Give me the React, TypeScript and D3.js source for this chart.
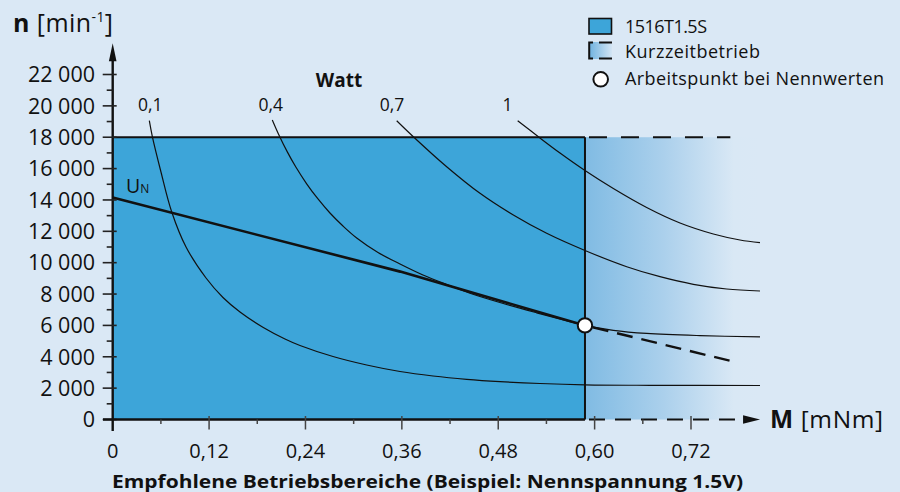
import React from "react";
import * as d3 from "d3";

// ---------- data ----------
const xTicks = [0, 0.12, 0.24, 0.36, 0.48, 0.6, 0.72];
const xTickLabels = ["0", "0,12", "0,24", "0,36", "0,48", "0,60", "0,72"];
const xMinorTicks = [0.06, 0.18, 0.3, 0.42, 0.54, 0.66];
const yTicks = [0, 2000, 4000, 6000, 8000, 10000, 12000, 14000, 16000, 18000, 20000, 22000];
const yTickLabels = ["0", "2 000", "4 000", "6 000", "8 000", "10 000", "12 000", "14 000", "16 000", "18 000", "20 000", "22 000"];
const yMinorTicks = [1000, 3000, 5000, 7000, 9000, 11000, 13000, 15000, 17000, 19000, 21000];

const ratedTorque = 0.588; // mNm, right edge of recommended area
const maxSpeed = 18000; // min-1, top edge
const shortTermEnd = 0.769; // end of dashed lines
const axisEndM = 0.806;
const axisEndN = 24000;
const opPoint: [number, number] = [0.588, 6000];

const curveP01: [number, number][] = [
  [0.0456, 19053], [0.0493, 18053], [0.0601, 15782], [0.0735, 13232], [0.0913, 11000],
  [0.1162, 9023], [0.1373, 7780], [0.1585, 6855], [0.1875, 5867], [0.2145, 5133],
  [0.2332, 4719], [0.2743, 4017], [0.3162, 3475], [0.3577, 3061], [0.3988, 2774],
  [0.4407, 2563], [0.4822, 2417], [0.532, 2296], [0.588, 2213], [0.6689, 2181], [0.8059, 2168],
];
const curveP04: [number, number][] = [
  [0.1987, 19099], [0.2062, 18225], [0.2174, 17064], [0.2282, 16082], [0.2415, 15030],
  [0.2556, 14061], [0.2705, 13168], [0.2867, 12339], [0.3038, 11574], [0.3303, 10649],
  [0.3577, 9916], [0.3863, 9214], [0.4158, 8609], [0.4448, 8054], [0.4863, 7397],
  [0.5279, 6804], [0.5693, 6243], [0.588, 6000], [0.6233, 5688], [0.6648, 5490],
  [0.7312, 5350], [0.8059, 5267],
];
const curveP07: [number, number][] = [
  [0.3536, 19054], [0.3743, 18034], [0.4158, 16121], [0.4573, 14424], [0.4988, 13040],
  [0.5403, 11873], [0.588, 10777], [0.64, 9744], [0.6814, 9106], [0.7229, 8621],
  [0.7644, 8322], [0.8059, 8194],
];
const curveP1: [number, number][] = [
  [0.5042, 19054], [0.532, 17951], [0.5569, 16994], [0.588, 15878], [0.6233, 14730],
  [0.6648, 13519], [0.7063, 12530], [0.7478, 11829], [0.781, 11446], [0.8059, 11274],
];
const powerCurves = [curveP01, curveP04, curveP07, curveP1];
const powerLabels = ["0,1", "0,4", "0,7", "1"];
const powerLabelM = [0.0468, 0.1969, 0.3478, 0.4917];
const powerLabelN = 19680;

const unLine: [number, number][] = [[0, 14150], [0.358, 9430], [0.588, 6000]];
const unDashed: [number, number][] = [[0.588, 6000], [0.768, 3750]];

const legendLabels = ["1516T1.5S", "Kurzzeitbetrieb", "Arbeitspunkt bei Nennwerten"];

// ---------- styles ----------
const BG = "#dae8f5";
const BLUE = "#3da5d9";
const FONT = "'Open Sans', 'Noto Sans', sans-serif";

export default function App() {
  const x = d3.scaleLinear().domain([0, 0.72]).range([112.7, 691]);
  const y = d3.scaleLinear().domain([0, 22000]).range([419.5, 74.5]);
  const line = d3
    .line<[number, number]>()
    .x((d) => x(d[0]))
    .y((d) => y(d[1]))
    .curve(d3.curveCatmullRom.alpha(0.5));
  const straight = d3
    .line<[number, number]>()
    .x((d) => x(d[0]))
    .y((d) => y(d[1]));

  const x0 = x(0);
  const y0 = y(0);
  const xR = x(ratedTorque);
  const yTop = y(maxSpeed);

  return (
    <svg
      width={900}
      height={492}
      style={{ position: "absolute", left: 0, top: 0, display: "block" }}
      fontFamily={FONT}
    >
      <defs>
        <linearGradient id="kzb" gradientUnits="userSpaceOnUse" x1={xR} x2={x(axisEndM)} y1={0} y2={0}>
          <stop offset="0" stopColor="#80bbe3" />
          <stop offset="0.45" stopColor="#abd0ec" />
          <stop offset="0.85" stopColor="#d9e8f5" />
          <stop offset="1" stopColor={BG} />
        </linearGradient>
        <linearGradient id="kzbLeg" x1="0" x2="1" y1="0" y2="0">
          <stop offset="0" stopColor="#6fb2df" />
          <stop offset="1" stopColor="#d3e5f4" />
        </linearGradient>
      </defs>
      <rect x={0} y={0} width={900} height={492} fill={BG} />

      {/* recommended area */}
      <rect x={x0} y={yTop} width={xR - x0} height={y0 - yTop} fill={BLUE} />
      {/* short-term area */}
      <rect x={xR} y={yTop} width={x(axisEndM) - xR} height={y0 - yTop} fill="url(#kzb)" />
      <line x1={x0} x2={xR} y1={yTop} y2={yTop} stroke="#111" strokeWidth={2.2} />
      <line x1={xR} x2={xR} y1={yTop} y2={y0} stroke="#111" strokeWidth={2} />
      <line x1={xR} x2={x(shortTermEnd)} y1={yTop} y2={yTop} stroke="#111" strokeWidth={2} strokeDasharray="18,14" strokeDashoffset={-4} />

      {/* power curves */}
      {powerCurves.map((c, i) => (
        <path key={i} d={line(c) || ""} fill="none" stroke="#111" strokeWidth={1.2} />
      ))}
      {powerLabels.map((t, i) => (
        <text key={t} x={x(powerLabelM[i])} y={y(powerLabelN)} fontSize={17.5} textAnchor="middle" fill="#111">
          {t}
        </text>
      ))}
      <text x={339} y={86.5} fontSize={19} fontWeight={700} textAnchor="middle" fill="#111">
        Watt
      </text>

      {/* U_N line */}
      <path d={straight(unLine) || ""} fill="none" stroke="#111" strokeWidth={2.6} />
      <path d={straight(unDashed) || ""} fill="none" stroke="#111" strokeWidth={2.4} strokeDasharray="16,9" strokeDashoffset={-8} />
      <text x={126} y={192.7} fontSize={19.5} fill="#111">
        U<tspan fontSize={12}>N</tspan>
      </text>

      {/* operating point */}
      <circle cx={x(opPoint[0])} cy={y(opPoint[1])} r={7.2} fill="#fff" stroke="#111" strokeWidth={2} />

      {/* y axis */}
      <line x1={x0} x2={x0} y1={431} y2={y(axisEndN) + 14} stroke="#111" strokeWidth={2.4} />
      <path d={`M${x0},${y(axisEndN)} L${x0 - 3.8},${y(axisEndN) + 18} L${x0 + 3.8},${y(axisEndN) + 18} Z`} fill="#111" />
      {yTicks.map((t, i) => (
        <g key={t}>
          <line x1={x0 - 10} x2={x0 + 4} y1={y(t)} y2={y(t)} stroke="#222" strokeWidth={1.6} />
          <text x={95} y={y(t)} dy="0.36em" fontSize={21.5} textAnchor="end" fill="#111">
            {yTickLabels[i]}
          </text>
        </g>
      ))}
      {yMinorTicks.map((t) => (
        <line key={t} x1={x0 - 6} x2={x0} y1={y(t)} y2={y(t)} stroke="#222" strokeWidth={1.6} />
      ))}

      {/* x axis */}
      <line x1={103} x2={xR} y1={y0} y2={y0} stroke="#111" strokeWidth={2.4} />
      <line x1={xR + 4} x2={x(axisEndM) - 16} y1={y0} y2={y0} stroke="#111" strokeWidth={2.2} strokeDasharray="16,10" />
      <path d={`M${x(axisEndM)},${y0} L${x(axisEndM) - 17},${y0 - 4.2} L${x(axisEndM) - 17},${y0 + 4.2} Z`} fill="#111" />
      {xTicks.map((t, i) => (
        <g key={t}>
          {t > 0 && <line x1={x(t)} x2={x(t)} y1={y0 - 3.5} y2={y0 + 10} stroke="#444" strokeWidth={1.5} />}
          <text x={x(t)} y={458} fontSize={20} textAnchor="middle" fill="#111">
            {xTickLabels[i]}
          </text>
        </g>
      ))}
      {xMinorTicks.map((t) => (
        <line key={t} x1={x(t)} x2={x(t)} y1={y0} y2={y0 + 4.5} stroke="#444" strokeWidth={1.5} />
      ))}

      {/* axis titles */}
      <text x={13} y={32.3} fontSize={25} fill="#111" textLength={100} lengthAdjust="spacing">
        <tspan fontWeight={700}>n</tspan>
        <tspan> [min</tspan>
        <tspan fontSize={14} dy={-10}>-1</tspan>
        <tspan dy={10}>]</tspan>
      </text>
      <text x={770} y={428.3} fontSize={24.5} fill="#111" textLength={113} lengthAdjust="spacing">
        <tspan fontWeight={700}>M</tspan>
        <tspan> [mNm]</tspan>
      </text>

      <text x={112} y={488} fontSize={18.5} fontWeight={700} fill="#111" textLength={631} lengthAdjust="spacingAndGlyphs">
        Empfohlene Betriebsbereiche (Beispiel: Nennspannung 1.5V)
      </text>

      {/* legend */}
      <rect x={589} y={18.5} width={22.5} height={15.5} fill={BLUE} stroke="#111" strokeWidth={1.6} />
      <text x={625} y={33.3} fontSize={18} fill="#111" textLength={82} lengthAdjust="spacing">{legendLabels[0]}</text>

      <rect x={589} y={42} width={23} height={17} fill="url(#kzbLeg)" />
      <path d="M593,42.5 L589.2,42.5 L589.2,58.5 L593,58.5" fill="none" stroke="#111" strokeWidth={2} />
      <line x1={599} x2={612} y1={42.5} y2={42.5} stroke="#111" strokeWidth={2} />
      <line x1={599} x2={612} y1={58.5} y2={58.5} stroke="#111" strokeWidth={2} />
      <text x={625} y={57.7} fontSize={18} fill="#111" textLength={135} lengthAdjust="spacing">{legendLabels[1]}</text>

      <circle cx={600.7} cy={79.3} r={7.3} fill="#fff" stroke="#111" strokeWidth={2} />
      <text x={625} y={85} fontSize={18} fill="#111" textLength={259} lengthAdjust="spacing">{legendLabels[2]}</text>
    </svg>
  );
}
